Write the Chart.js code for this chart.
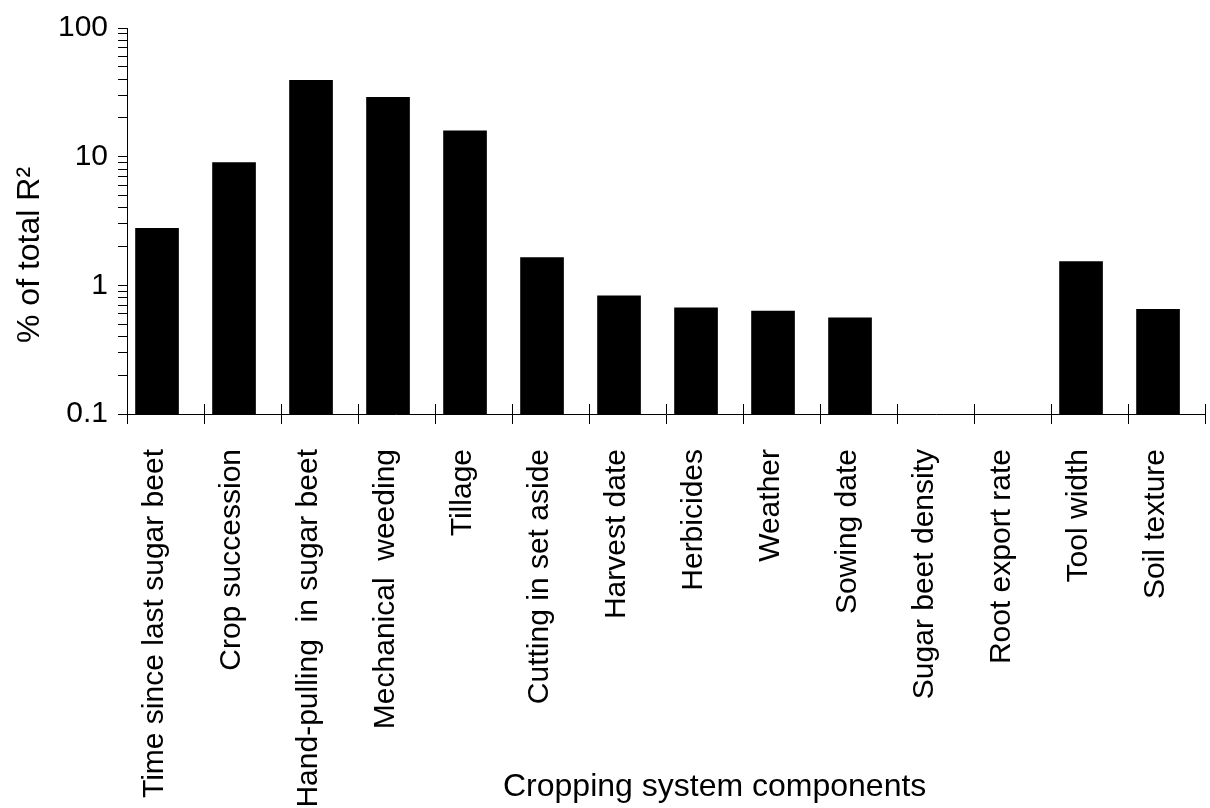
<!DOCTYPE html>
<html><head><meta charset="utf-8">
<script src="https://cdn.jsdelivr.net/npm/chart.js@4/dist/chart.umd.min.js"></script>
<style>html,body{margin:0;padding:0;background:#fff;}#wrap{width:1210px;height:808px;}</style>
</head><body><div id="wrap"><canvas id="c" width="1210" height="808"></canvas></div>
<script>
// ---- data ----
const categories = ["Time since last sugar beet","Crop succession","Hand-pulling  in sugar beet","Mechanical  weeding","Tillage","Cutting in set aside","Harvest date","Herbicides","Weather","Sowing date","Sugar beet density","Root export rate","Tool width","Soil texture"];
const values = [2.77, 9.0, 39.2, 28.9, 15.9, 1.64, 0.83, 0.67, 0.63, 0.56, null, null, 1.53, 0.65];
const majorTicks = [0.1, 1, 10, 100];
const minorMultipliers = [2, 3, 4, 5, 6, 7, 8, 9];
const yTitle = "% of total R²";
const xTitle = "Cropping system components";

// ---- build ----
const yTickValues = [];
majorTicks.forEach((d, k) => {
  yTickValues.push(d);
  if (k < majorTicks.length - 1) minorMultipliers.forEach(m => yTickValues.push(+(m * d).toPrecision(3)));
});
const FONT = 'Arial, "Liberation Sans", sans-serif';
Chart.defaults.font.family = FONT;
Chart.defaults.color = '#000';
const barShift = 0.11;

const extras = {
  id: 'extras',
  afterDraw(chart) {
    const s = chart.scales.x, a = chart.chartArea, c = chart.ctx;
    c.save(); c.strokeStyle = '#000'; c.lineWidth = 1;
    for (let i = 1; i <= categories.length; i++) {
      const px = Math.round(s.getPixelForValue(i - 0.5) - 0.5) + 0.5;
      c.beginPath(); c.moveTo(px, a.bottom - 10); c.lineTo(px, a.bottom); c.stroke();
    }
    c.fillStyle = '#000';
    c.font = '32px ' + FONT;
    c.textBaseline = 'alphabetic';
    // x axis title
    c.textAlign = 'left';
    c.fillText(xTitle, a.left + 376, a.bottom + 382);
    // y axis title
    c.translate(39, a.bottom - 71);
    c.rotate(-Math.PI / 2);
    c.textAlign = 'left';
    c.fillText(yTitle, 0, 0);
    c.restore();
  }
};

new Chart(document.getElementById('c'), {
  type: 'bar',
  data: {
    labels: categories,
    datasets: [{
      data: categories.map((c, i) => ({ x: i, y: values[i] })),
      backgroundColor: '#000', borderWidth: 0,
      xAxisID: 'xb', yAxisID: 'y', barThickness: 43
    }]
  },
  options: {
    responsive: false, animation: false, devicePixelRatio: 1,
    layout: { padding: { top: 19, right: 5, left: 0, bottom: 0 } },
    plugins: { legend: { display: false }, tooltip: { enabled: false } },
    scales: {
      x: {
        type: 'category', labels: categories, offset: true, position: 'bottom',
        grid: { display: true, drawOnChartArea: false, offset: true, tickLength: 10, color: '#000', lineWidth: 1 },
        border: { display: true, color: '#000', width: 1 },
        ticks: { autoSkip: false, maxRotation: 90, minRotation: 90, padding: 25, labelOffset: -11, font: { size: 30 }, color: '#000' },
        title: { display: false, text: xTitle },
        afterFit(s) { s.height = 394; s.paddingLeft = 0; s.paddingRight = 0; }
      },
      xb: { type: 'linear', display: false, offset: false, min: -0.5 + barShift, max: categories.length - 0.5 + barShift },
      y: {
        type: 'logarithmic', position: 'left', min: 0.1, max: 100,
        afterBuildTicks(s) { s.ticks = yTickValues.map(v => ({ value: v, major: majorTicks.includes(v) })); },
        afterFit(s) { s.width = 127; },
        grid: { drawOnChartArea: false, tickLength: 9, color: '#000', lineWidth: 1 },
        border: { display: true, color: '#000', width: 1 },
        ticks: { autoSkip: false, padding: 10, font: { size: 30 }, color: '#000',
          callback: (v) => majorTicks.includes(v) ? String(v) : '' },
        title: { display: false, text: yTitle }
      }
    }
  },
  plugins: [extras]
});
</script></body></html>
